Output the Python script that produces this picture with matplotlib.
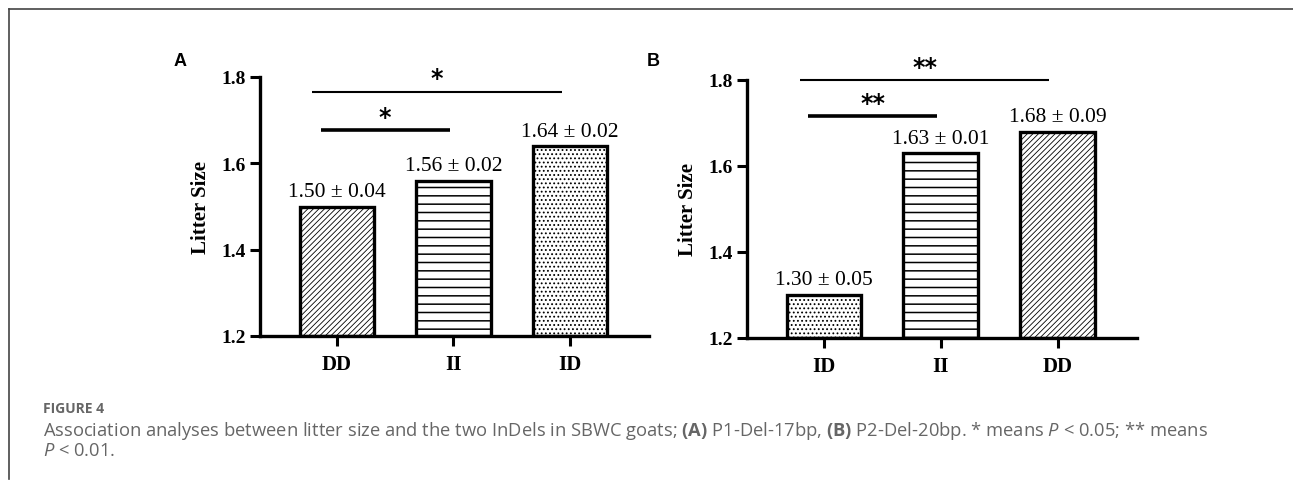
import numpy as np
import matplotlib
matplotlib.use("Agg")
import matplotlib.pyplot as plt
from matplotlib.lines import Line2D

# data
genotypes_a = ["DD", "II", "ID"]
means_a = [1.50, 1.56, 1.64]
sems_a = [0.04, 0.02, 0.02]
genotypes_b = ["ID", "II", "DD"]
means_b = [1.30, 1.63, 1.68]
sems_b = [0.05, 0.01, 0.09]
hatch_of = {"DD": "//////", "II": "--", "ID": "...."}
hatch_lw = {"DD": 0.6, "II": 1.1, "ID": 0.8}

# significance brackets: (left index, right index, label, line level, star baseline)
sig_a = [(0, 2, "*", 1.765, 1.782), (0, 1, "*", 1.677, 1.692)]
sig_b = [(0, 2, "**", 1.800, 1.815), (0, 1, "**", 1.716, 1.730)]

W, H = 1293, 485
fig = plt.figure(figsize=(W / 100, H / 100), dpi=100)
plt.rcParams['mathtext.fontset'] = 'custom'
plt.rcParams['mathtext.bf'] = 'Open Sans:bold'
plt.rcParams['mathtext.it'] = 'Open Sans:italic'
plt.rcParams['mathtext.rm'] = 'Open Sans'
serif = ['Liberation Serif', 'DejaVu Serif']


def panel(left_px, base_px, top_px, right_px, genos, means, sems, sigs, letter, letter_x):
    ax = fig.add_axes([left_px / W, (H - base_px) / H, (right_px - left_px) / W,
                       (base_px - top_px) / H])
    x = np.arange(len(genos))
    for xi, g, m in zip(x, genos, means):
        with plt.rc_context({'hatch.linewidth': hatch_lw[g]}):
            ax.bar(xi, m - 1.2, bottom=1.2, width=0.64, facecolor='white', edgecolor='black',
                   linewidth=2.4, hatch=hatch_of[g], zorder=2)
    for xi, m, s in zip(x, means, sems):
        ax.annotate(f"{m:.2f} \u00b1 {s:.2f}", (xi, m), xytext=(0, 4), textcoords='offset points',
                    ha='center', va='bottom', fontsize=15.5, family=serif)
    ax.set_xlim(-0.66, 2.68)
    ax.set_ylim(1.2, 1.8)
    ax.set_yticks([1.2, 1.4, 1.6, 1.8])
    ax.set_yticklabels(["1.2", "1.4", "1.6", "1.8"], fontsize=14, fontweight='bold', family=serif)
    ax.set_xticks(x)
    ax.set_xticklabels(genos, fontsize=15, fontweight='bold', family=serif)
    ax.tick_params(axis='both', length=7, width=2.2, direction='out')
    ax.tick_params(axis='x', pad=6)
    ax.tick_params(axis='y', pad=3)
    for sp in ['top', 'right']:
        ax.spines[sp].set_visible(False)
    for sp in ['left', 'bottom']:
        ax.spines[sp].set_linewidth(2.4)
    ax.set_ylabel("Litter Size", fontsize=15, fontweight='bold', family=serif, labelpad=8)
    # brackets
    for k, (i, j, lab, yl, ys) in enumerate(sigs):
        if k == 0:
            x0, x1, lw = i - 0.21, j - 0.07, 1.5
        else:
            x0, x1, lw = i - 0.14, j - 0.03, 2.6
        ax.plot([x0, x1], [yl, yl], color='black', lw=lw, clip_on=False, solid_capstyle='butt')
        ax.text((x0 + x1) / 2, ys, lab, ha='center', va='baseline', fontsize=17,
                fontweight='bold', family='DejaVu Sans', clip_on=False)
    fig.text(letter_x / W, 1 - 62 / H, letter, fontsize=13, fontweight='bold',
             family='Liberation Sans', ha='center', va='center')
    return ax


panel(260, 337, 78, 649, genotypes_a, means_a, sems_a, sig_a, "A", 180)
panel(747, 339, 81, 1137, genotypes_b, means_b, sems_b, sig_b, "B", 653)

# frame lines
fig.add_artist(Line2D([9 / W, 1], [1 - 10 / H, 1 - 10 / H], color='#444444', lw=1.2))
fig.add_artist(Line2D([9 / W, 9 / W], [1 - 10 / H, 0.01], color='#444444', lw=1.2))

cap_col = '#666666'
fig.text(43 / W, 1 - 409 / H, "FIGURE 4", fontsize=10, fontweight='bold', color=cap_col,
         family='Open Sans', va='center')
fig.text(43 / W, 1 - 431 / H,
         "Association analyses between litter size and the two InDels in SBWC goats; "
         r"$\mathbf{(A)}$ P1-Del-17bp, $\mathbf{(B)}$ P2-Del-20bp. * means $P$ < 0.05; ** means",
         fontsize=13.2, color=cap_col, family='Open Sans', va='center')
fig.text(43 / W, 1 - 451 / H, r"$P$ < 0.01.", fontsize=13.2, color=cap_col,
         family='Open Sans', va='center')

fig.savefig("out.png", dpi=100)
